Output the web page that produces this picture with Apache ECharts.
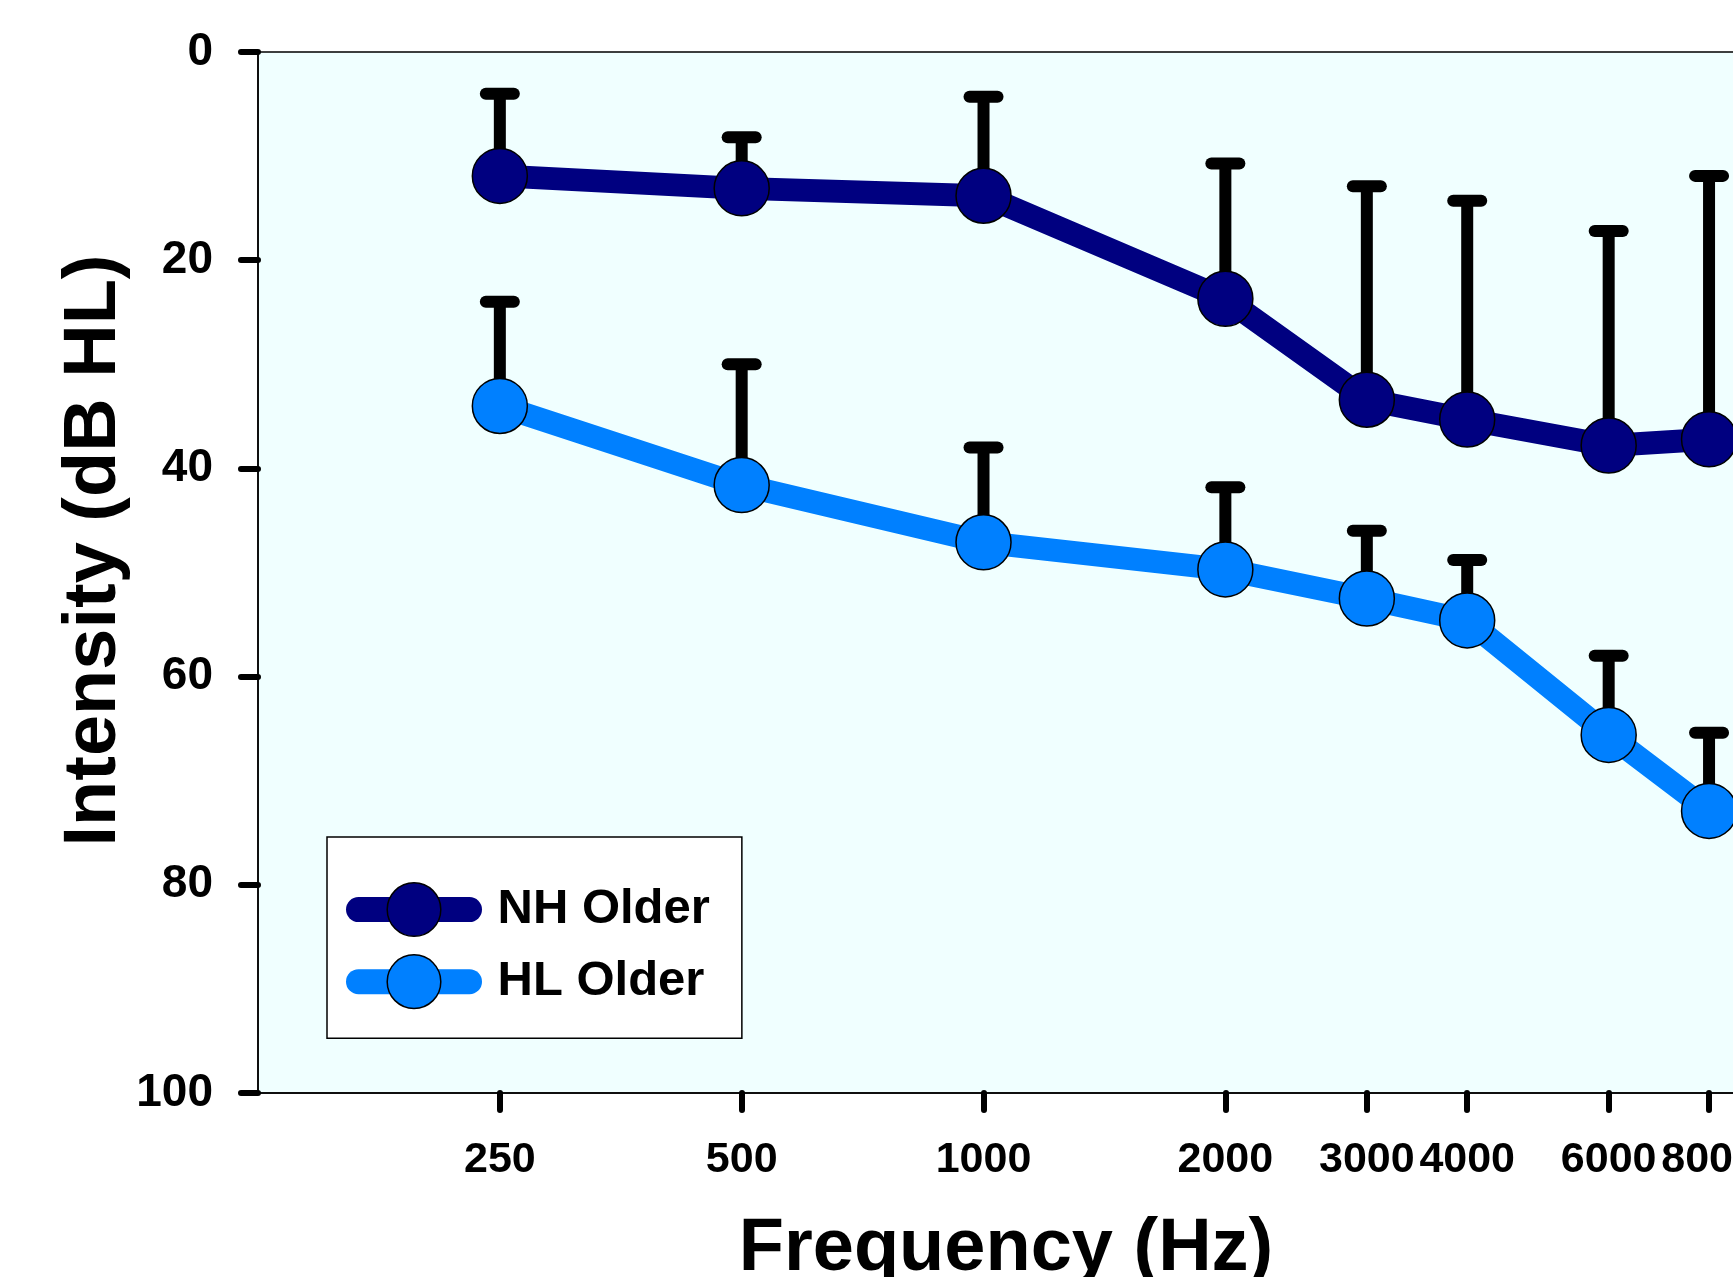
<!DOCTYPE html>
<html>
<head>
<meta charset="utf-8">
<title>Audiogram</title>
<script src="https://cdn.jsdelivr.net/npm/echarts@6/dist/echarts.min.js"></script>
<style>
  html, body { margin: 0; padding: 0; background: #fff; }
  #chart { width: 1733px; height: 1277px; }
</style>
</head>
<body>
<div id="chart"></div>
<script>
// data
var freqs = [250, 500, 1000, 2000, 3000, 4000, 6000, 8000];
var yTicks = [0, 20, 40, 60, 80, 100];
var nhMean = [11.9, 13.1, 13.8, 23.7, 33.4, 35.3, 37.8, 37.2];
var nhSd = [7.9, 4.9, 9.5, 13.0, 20.5, 21.0, 20.6, 25.3];
var hlMean = [34.0, 41.6, 47.1, 49.7, 52.5, 54.6, 65.6, 72.9];
var hlSd = [10.0, 11.6, 9.1, 7.9, 6.5, 5.8, 7.6, 7.5];

var FONT = "'Liberation Sans', Arial, sans-serif";

(function () {
  var myChart = echarts.init(document.getElementById("chart"));

  function pairs(mean) {
    return freqs.map(function (f, i) { return [f, mean[i]]; });
  }
  function errData(mean, sd) {
    return freqs.map(function (f, i) { return [f, mean[i], sd[i]]; });
  }

  // error bar: stem from the mean up by one SD, with a rounded cap
  function renderErr(params, api) {
    var x = api.value(0), m = api.value(1), s = api.value(2);
    var p0 = api.coord([x, m]);
    var p1 = api.coord([x, m - s]);
    return {
      type: "group",
      children: [
        {
          type: "line",
          shape: { x1: p0[0], y1: p0[1], x2: p1[0], y2: p1[1] },
          style: { stroke: "#000", lineWidth: 12 }
        },
        {
          type: "line",
          shape: { x1: p1[0] - 14, y1: p1[1], x2: p1[0] + 14, y2: p1[1] },
          style: { stroke: "#000", lineWidth: 12, lineCap: "round" }
        }
      ]
    };
  }

  var option = {
    backgroundColor: "#ffffff",
    animation: false,
    grid: {
      left: 258,
      top: 52,
      right: -21,
      bottom: 184,
      show: true,
      backgroundColor: "#F0FFFF",
      borderColor: "#000",
      borderWidth: 1.5,
      containLabel: false,
      outerBoundsMode: "none"
    },
    legend: {
      orient: "vertical",
      left: 327,
      top: 837,
      padding: [45, 32, 29, 19],
      backgroundColor: "#ffffff",
      borderColor: "#000",
      borderWidth: 1.5,
      borderRadius: 0,
      itemWidth: 111,
      itemHeight: 67,
      itemGap: 17,
      lineStyle: { width: 25, cap: "round" },
      itemStyle: { borderColor: "#000", borderWidth: 1.5 },
      textStyle: {
        fontFamily: FONT,
        fontWeight: "bold",
        fontSize: 49,
        color: "#000",
        padding: [0, 0, 0, 23]
      },
      data: ["NH Older", "HL Older"]
    },
    xAxis: {
      type: "log",
      logBase: 2,
      min: 125,
      max: 9100,
      position: "bottom",
      name: "Frequency (Hz)",
      nameLocation: "middle",
      nameGap: 120,
      nameTextStyle: {
        fontFamily: FONT,
        fontWeight: "bold",
        fontSize: 74,
        color: "#000"
      },
      axisLine: { show: true, onZero: false, lineStyle: { color: "#000", width: 1.5 } },
      axisTick: {
        show: true,
        inside: false,
        length: 17,
        customValues: freqs,
        lineStyle: { color: "#000", width: 6, cap: "round" }
      },
      axisLabel: {
        customValues: freqs,
        margin: 46,
        fontFamily: FONT,
        fontWeight: "bold",
        fontSize: 43,
        color: "#000",
        formatter: function (v) { return String(v); }
      },
      splitLine: { show: false },
      minorTick: { show: false }
    },
    yAxis: {
      type: "value",
      inverse: true,
      min: 0,
      max: 100,
      interval: 20,
      name: "Intensity (dB HL)",
      nameLocation: "middle",
      nameRotate: 90,
      nameGap: 126,
      nameMoveOverlap: false,
      nameTextStyle: {
        fontFamily: FONT,
        fontWeight: "bold",
        fontSize: 74,
        color: "#000",
        padding: [0, 0, 0, 44]
      },
      axisLine: { show: true, onZero: false, lineStyle: { color: "#000", width: 1.5 } },
      axisTick: {
        show: true,
        inside: false,
        length: 17,
        customValues: yTicks,
        lineStyle: { color: "#000", width: 6, cap: "round" }
      },
      axisLabel: {
        margin: 45,
        fontFamily: FONT,
        fontWeight: "bold",
        fontSize: 46,
        color: "#000"
      },
      splitLine: { show: false }
    },
    series: [
      {
        name: "NH Older err",
        type: "custom",
        renderItem: renderErr,
        data: errData(nhMean, nhSd),
        z: 1,
        silent: true
      },
      {
        name: "HL Older err",
        type: "custom",
        renderItem: renderErr,
        data: errData(hlMean, hlSd),
        z: 1,
        silent: true
      },
      {
        name: "NH Older",
        type: "line",
        data: pairs(nhMean),
        symbol: "circle",
        symbolSize: 55,
        lineStyle: { color: "#000080", width: 23 },
        itemStyle: { color: "#000080", borderColor: "#000", borderWidth: 1.5 },
        z: 3
      },
      {
        name: "HL Older",
        type: "line",
        data: pairs(hlMean),
        symbol: "circle",
        symbolSize: 55,
        lineStyle: { color: "#0080FF", width: 23 },
        itemStyle: { color: "#0080FF", borderColor: "#000", borderWidth: 1.5 },
        z: 2
      }
    ]
  };

  myChart.setOption(option);
  window.addEventListener("resize", function () {
    myChart.resize();
  });
})();
</script>
</body>
</html>
